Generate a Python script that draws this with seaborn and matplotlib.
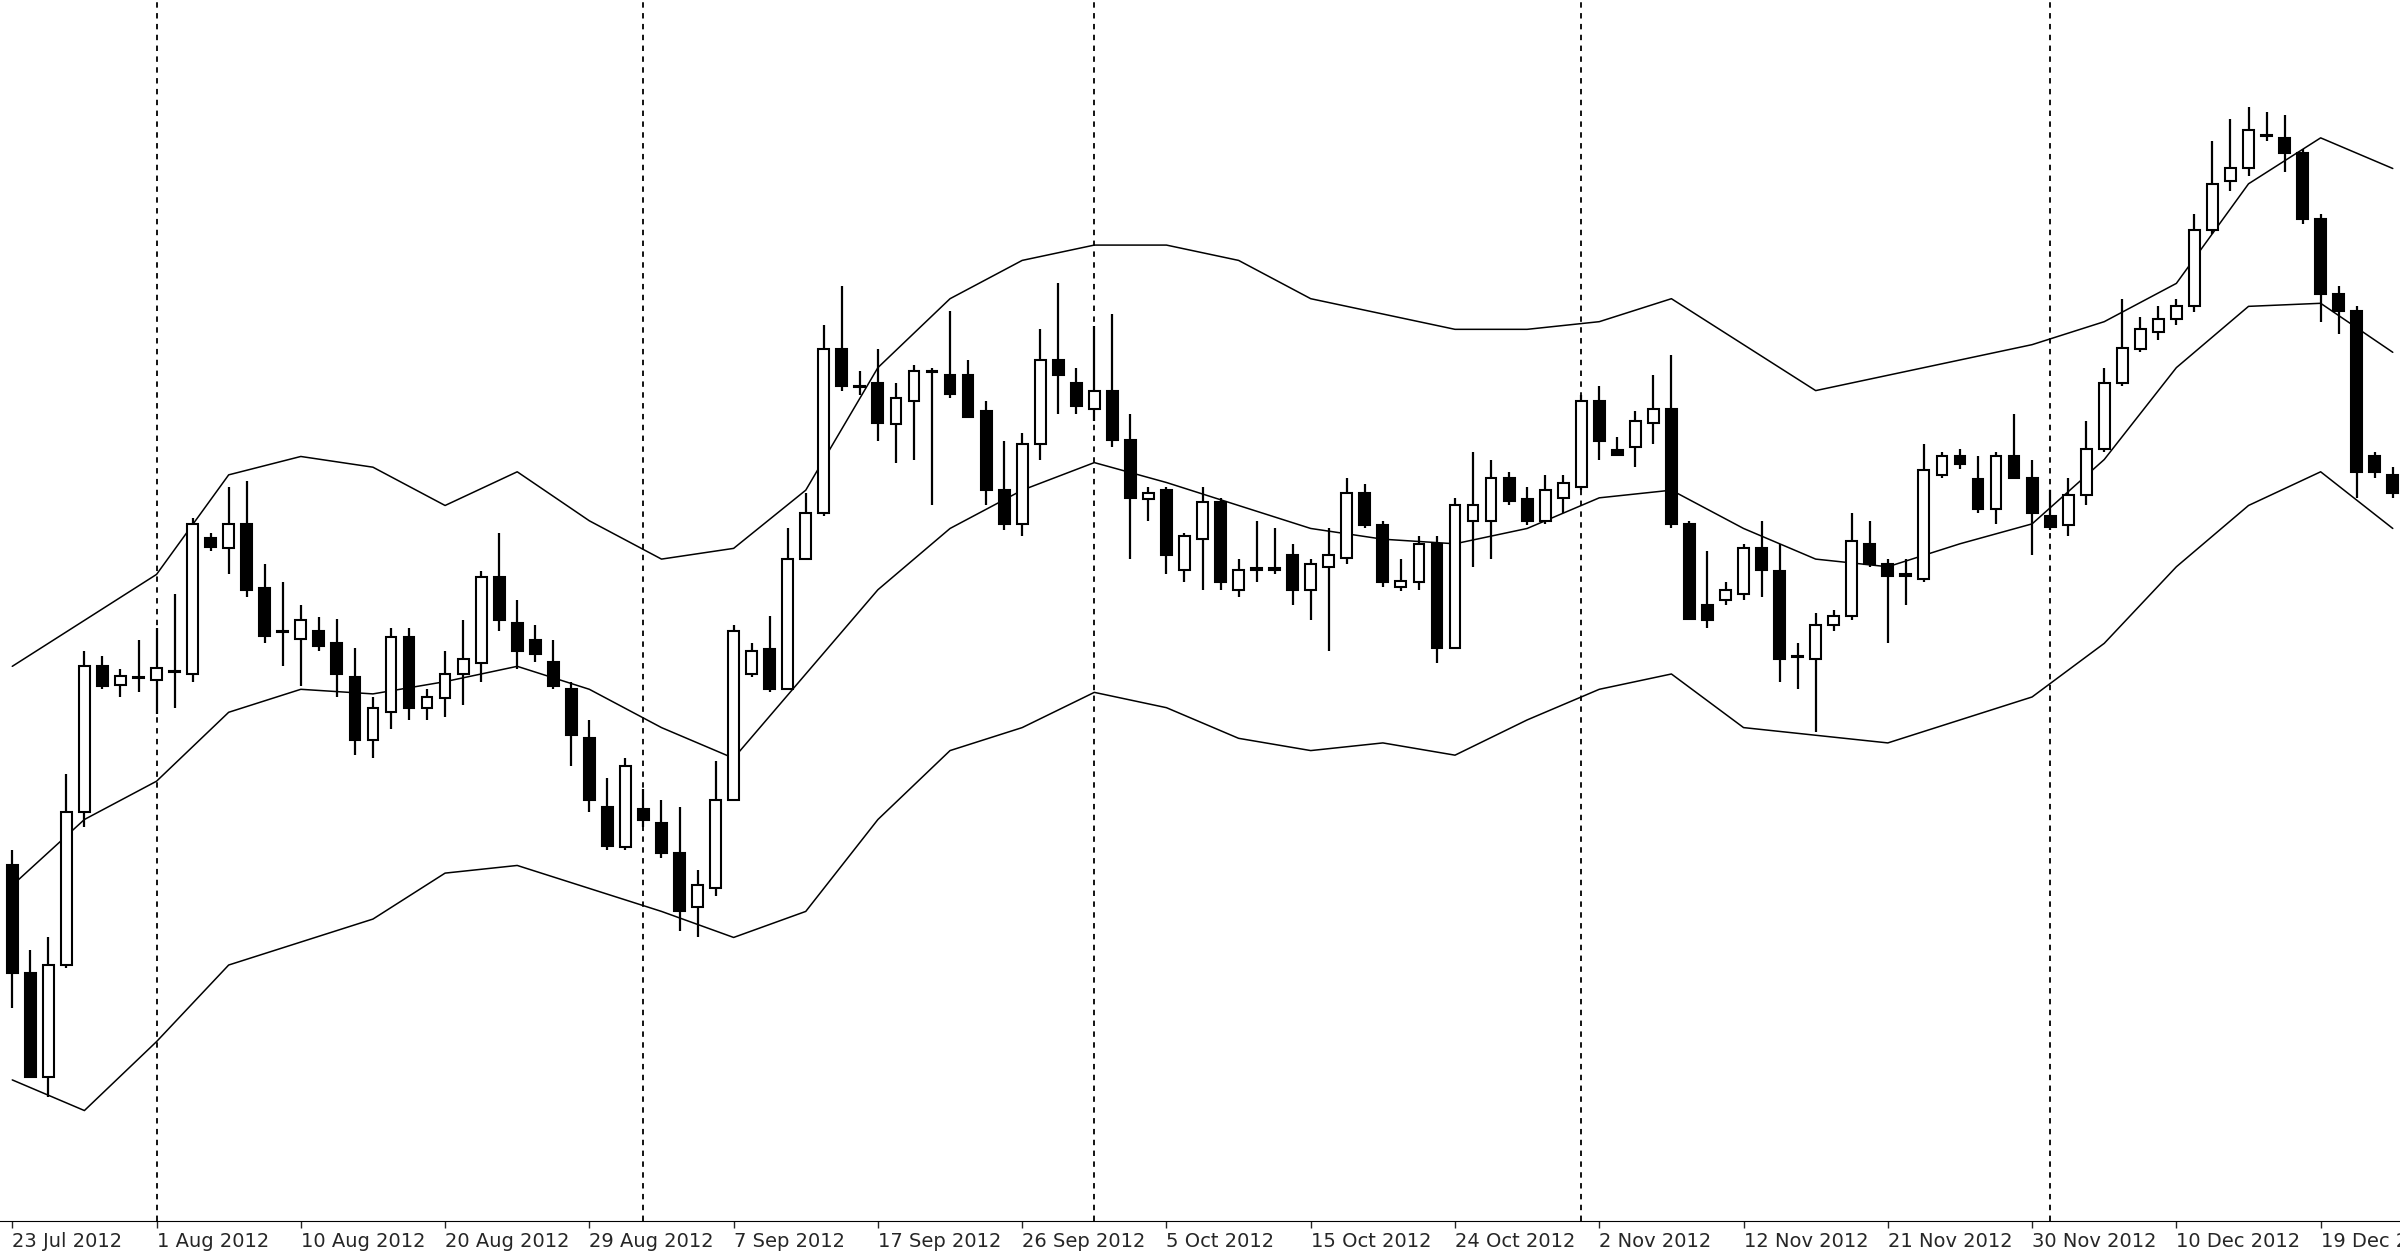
import matplotlib
matplotlib.use("Agg")
import numpy as np
import pandas as pd
import matplotlib.pyplot as plt
import seaborn as sns

# values, in screen units (larger = lower on chart)
opens = [565, 635, 703, 630, 530, 435, 447, 442, 444, 438, 440, 351, 358, 342, 384, 412, 417, 412, 420, 442,
         483, 465, 416, 462, 456, 440, 433, 377, 407, 418, 432, 450, 482, 527, 553, 528, 537, 557, 592, 580,
         522, 440, 424, 450, 365, 335, 228, 252, 250, 277, 262, 242, 245, 245, 268, 320, 342, 290, 235, 250,
         267, 255, 287, 326, 320, 372, 352, 328, 385, 371, 371, 362, 385, 370, 364, 322, 343, 383, 380, 355,
         423, 340, 340, 312, 326, 340, 325, 318, 262, 294, 292, 276, 267, 342, 395, 392, 388, 358, 373, 428,
         430, 408, 402, 355, 368, 375, 378, 310, 298, 313, 332, 298, 312, 337, 343, 323, 293, 250, 228, 217,
         208, 200, 150, 118, 110, 88, 90, 100, 143, 192, 203, 298, 310]
closes = [635, 703, 630, 530, 435, 448, 441, 442, 436, 438, 342, 357, 342, 385, 415, 412, 405, 422, 440, 483,
          462, 416, 462, 455, 440, 430, 377, 405, 425, 427, 448, 480, 522, 552, 500, 535, 557, 595, 578, 522,
          412, 425, 450, 365, 335, 228, 252, 252, 276, 260, 242, 242, 257, 272, 320, 342, 290, 235, 245, 265,
          255, 287, 325, 322, 362, 350, 328, 380, 372, 371, 371, 385, 368, 362, 322, 343, 380, 379, 355, 423,
          330, 330, 312, 327, 340, 320, 315, 262, 288, 297, 275, 267, 342, 404, 405, 385, 358, 372, 430, 428,
          408, 402, 353, 368, 376, 375, 307, 298, 303, 332, 298, 312, 335, 344, 323, 293, 250, 227, 215, 208,
          200, 150, 120, 110, 85, 88, 100, 143, 192, 203, 308, 308, 322]
highs = [555, 620, 612, 505, 425, 428, 437, 418, 410, 388, 338, 348, 318, 314, 368, 380, 395, 403, 404, 423,
         455, 410, 410, 450, 425, 405, 373, 348, 392, 408, 418, 445, 470, 508, 495, 515, 522, 527, 568, 497,
         408, 420, 402, 345, 322, 212, 187, 242, 228, 250, 238, 240, 203, 235, 262, 288, 283, 215, 185, 240,
         213, 205, 270, 318, 318, 348, 318, 325, 365, 340, 345, 355, 365, 345, 312, 316, 340, 365, 350, 350,
         325, 295, 300, 308, 318, 310, 310, 258, 252, 285, 268, 245, 232, 340, 360, 380, 355, 340, 355, 420,
         400, 398, 335, 340, 365, 365, 290, 295, 293, 298, 295, 270, 300, 320, 312, 275, 240, 195, 207, 200,
         195, 140, 92, 78, 70, 73, 75, 97, 140, 187, 200, 295, 305]
lows = [658, 703, 716, 632, 540, 450, 455, 452, 466, 462, 445, 360, 375, 390, 420, 435, 448, 425, 455, 493,
        495, 476, 470, 470, 468, 460, 445, 412, 437, 432, 450, 500, 530, 555, 555, 540, 560, 608, 612, 585,
        522, 442, 452, 450, 365, 337, 255, 258, 288, 302, 300, 330, 260, 273, 330, 346, 350, 300, 270, 270,
        275, 292, 365, 340, 375, 380, 385, 385, 390, 380, 375, 395, 405, 425, 368, 345, 383, 386, 385, 433,
        423, 370, 365, 330, 343, 342, 335, 320, 300, 298, 305, 290, 345, 405, 410, 395, 392, 390, 445, 450,
        478, 412, 405, 370, 420, 395, 380, 312, 306, 335, 342, 313, 362, 346, 350, 330, 295, 252, 230, 222,
        212, 204, 153, 125, 115, 92, 112, 146, 210, 218, 325, 312, 325]

# Bollinger bands sampled every 4 bars
band_idx = list(range(0, 133, 4))
upper = [435, 405, 375, 310, 298, 305, 330, 308, 340, 365, 358, 320, 240, 195, 170, 160, 160,
         170, 195, 205, 215, 215, 210, 195, 225, 255, 245, 235, 225, 210, 185, 120, 90, 110]
middle = [578, 535, 510, 465, 450, 453, 445, 435, 450, 475, 495, 440, 385, 345, 320, 302, 315,
          330, 345, 352, 355, 345, 325, 320, 345, 365, 370, 355, 342, 300, 240, 200, 198, 230]
lower = [705, 725, 680, 630, 615, 600, 570, 565, 580, 595, 612, 595, 535, 490, 475, 452, 462,
         482, 490, 485, 493, 470, 450, 440, 475, 480, 485, 470, 455, 420, 370, 330, 308, 345]

tick_labels = ["23 Jul 2012", "1 Aug 2012", "10 Aug 2012", "20 Aug 2012", "29 Aug 2012", "7 Sep 2012",
               "17 Sep 2012", "26 Sep 2012", "5 Oct 2012", "15 Oct 2012", "24 Oct 2012", "2 Nov 2012",
               "12 Nov 2012", "21 Nov 2012", "30 Nov 2012", "10 Dec 2012", "19 Dec 2012"]
separators = [8, 35, 60, 87, 113]

sns.set_style("white")
plt.rcParams['font.family'] = ['DejaVu Sans']

fig = plt.figure(figsize=(24, 12.56), dpi=100)
ax = fig.add_axes([0, 0.028, 1, 0.972])

n = len(opens)
x = np.arange(n)
o = np.array(opens); c = np.array(closes)
ax.vlines(x, highs, lows, color="black", lw=1.6, zorder=2)
up = c < o
bottom = np.minimum(o, c)
height = np.maximum(np.abs(o - c), 0.8)
ax.bar(x[up], height[up], bottom=bottom[up], width=0.6, color="white", edgecolor="black", lw=1.5, zorder=3)
ax.bar(x[~up], height[~up], bottom=bottom[~up], width=0.6, color="black", edgecolor="black", lw=1.5, zorder=3)

bands = pd.DataFrame({"idx": band_idx, "upper": upper, "middle": middle, "lower": lower})
for col in ["upper", "middle", "lower"]:
    sns.lineplot(data=bands, x="idx", y=col, ax=ax, color="black", lw=1.1, zorder=1)

for s in separators:
    ax.axvline(s, color="black", lw=1.3, ls=(0, (3, 3)), zorder=0)

ax.set_xlim(-0.68, 132.4)
ax.set_ylim(797, 0)
ax.set_xticks(np.arange(0, n, 8))
ax.set_xticklabels(tick_labels, ha="left", fontsize=14)
ax.tick_params(axis="x", length=5, width=1, direction="out", bottom=True, pad=3)
ax.set_yticks([])
ax.set_xlabel(""); ax.set_ylabel("")
for side in ["top", "left", "right"]:
    ax.spines[side].set_visible(False)
ax.spines["bottom"].set_color("black")

fig.savefig("out.png", dpi=100)
